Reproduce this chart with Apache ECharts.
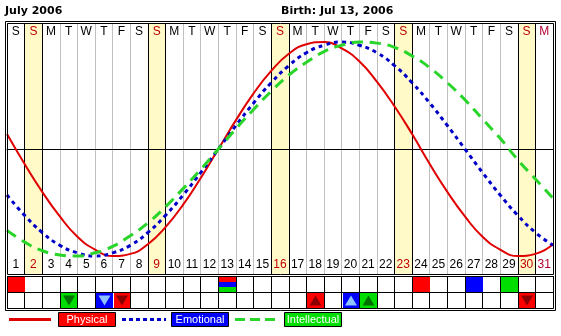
<!DOCTYPE html>
<html><head><meta charset="utf-8">
<script src="https://cdn.jsdelivr.net/npm/echarts/dist/echarts.min.js"></script>
<style>html,body{margin:0;padding:0;background:#fff}#c{width:561px;height:336px}</style>
</head><body><div id="c"></div>
<script>
const monthTitle = 'July 2006';
const birthTitle = 'Birth: Jul 13, 2006';
const dayLabels = ['1','2','3','4','5','6','7','8','9','10','11','12','13','14','15','16','17','18','19','20','21','22','23','24','25','26','27','28','29','30','31'];
const weekdayLabels = ['S','S','M','T','W','T','F','S','S','M','T','W','T','F','S','S','M','T','W','T','F','S','S','M','T','W','T','F','S','S','M'];
const sundays = ['2','9','16','23','30'];
const markedDays = ['31'];
const curveDays = [1,2,3,4,5,6,7,8,9,10,11,12,13,14,15,16,17,18,19,20,21,22,23,24,25,26,27,28,29,30,31,32];
const physical = [0.14,-0.14,-0.40,-0.63,-0.82,-0.94,-1.00,-0.98,-0.89,-0.73,-0.52,-0.27,0.00,0.27,0.52,0.73,0.89,0.98,1.00,0.94,0.82,0.63,0.40,0.14,-0.14,-0.40,-0.63,-0.82,-0.94,-1.00,-0.98,-0.89];
const emotional = [-0.43,-0.62,-0.78,-0.90,-0.97,-1.00,-0.97,-0.90,-0.78,-0.62,-0.43,-0.22,0.00,0.22,0.43,0.62,0.78,0.90,0.97,1.00,0.97,0.90,0.78,0.62,0.43,0.22,0.00,-0.22,-0.43,-0.62,-0.78,-0.90];
const intellectual = [-0.76,-0.87,-0.95,-0.99,-1.00,-0.97,-0.91,-0.81,-0.69,-0.54,-0.37,-0.19,0.00,0.19,0.37,0.54,0.69,0.81,0.91,0.97,1.00,0.99,0.95,0.87,0.76,0.62,0.46,0.28,0.10,-0.10,-0.28,-0.46];
const indicatorRows = ['critical','extreme'];
const physicalCritical = ['1','24'];
const emotionalCritical = ['27'];
const intellectualCritical = ['29'];
const tripleCritical = ['13'];
const physicalHigh = ['18'];
const physicalLow = ['7','30'];
const emotionalHigh = ['20'];
const emotionalLow = ['6'];
const intellectualHigh = ['21'];
const intellectualLow = ['4'];
const legendNames = ['Physical','Emotional','Intellectual'];

const RED = '#e00000', BLUE = '#0000c8', GREEN = '#2ad52a';
const BOX_RED = '#ff0000', BOX_BLUE = '#0000ff', BOX_GREEN = '#00dd00';
const LABEL_FONT = 'Liberation Sans';

const chart = echarts.init(document.getElementById('c'), null, {renderer: 'canvas'});

function cellItem(kind, fill, triFill) {
  return function (params, api) {
    const c = api.coord([api.value(0), api.value(1)]);
    const s = api.size([1, 1]);
    const left = Math.round(c[0] - s[0] / 2) + 1, right = Math.round(c[0] + s[0] / 2);
    const top = Math.round(c[1] - s[1] / 2) + 1, bottom = Math.round(c[1] + s[1] / 2);
    const children = [];
    if (kind === 'triple') {
      const h = (bottom - top) / 3;
      fill.forEach((f, i) => children.push({type: 'rect', shape: {x: left, y: top + i * h, width: right - left, height: h}, style: {fill: f}}));
    } else {
      children.push({type: 'rect', shape: {x: left, y: top, width: right - left, height: bottom - top}, style: {fill: fill}});
      if (kind === 'up' || kind === 'down') {
        const cx = (left + right) / 2, cy = (top + bottom) / 2;
        const pts = kind === 'down'
          ? [[cx - 6, cy - 5], [cx + 6, cy - 5], [cx, cy + 5]]
          : [[cx - 6, cy + 5], [cx + 6, cy + 5], [cx, cy - 5]];
        children.push({type: 'polygon', shape: {points: pts}, style: {fill: triFill}});
      }
    }
    return {type: 'group', children: children};
  };
}
function cellSeries(days, row, kind, fill, triFill) {
  return {
    type: 'custom', xAxisIndex: 3, yAxisIndex: 2, z: 5, silent: true,
    renderItem: cellItem(kind, fill, triFill),
    data: days.map(d => [d, row])
  };
}
function labelColor(v) {
  if (sundays.indexOf(v) >= 0) return '#c00000';
  if (markedDays.indexOf(v) >= 0) return '#b00030';
  return '#000';
}

const option = {
  animation: false,
  backgroundColor: '#fff',
  title: [
    {text: monthTitle, left: 5, top: 6, padding: 0, textStyle: {fontFamily: 'DejaVu Sans', fontWeight: 'bold', fontSize: 11, color: '#000'}},
    {text: birthTitle, left: 281, top: 6, padding: 0, textStyle: {fontFamily: 'DejaVu Sans', fontWeight: 'bold', fontSize: 11, color: '#000'}}
  ],
  grid: [
    {left: 7, top: 23, width: 546, height: 251, outerBoundsMode: 'none', containLabel: false},
    {left: 7, top: 276, width: 546, height: 32, outerBoundsMode: 'none', containLabel: false}
  ],
  xAxis: [
    {type: 'value', gridIndex: 0, min: 1, max: 32, show: true,
      axisLine: {show: true, onZero: true, onZeroAxisIndex: 0, lineStyle: {color: '#000', width: 1}},
      axisTick: {show: false}, axisLabel: {show: false}, splitLine: {show: false}, z: 1},
    {type: 'category', gridIndex: 0, data: dayLabels, position: 'bottom', boundaryGap: true,
      axisLine: {show: false, onZero: false}, axisTick: {show: false},
      axisLabel: {show: true, inside: true, margin: 3, interval: 0, fontFamily: LABEL_FONT, fontSize: 12,
        color: (v) => labelColor(v)},
      splitLine: {show: true, interval: 0, lineStyle: {width: 1, color: ['#c0c0c0', '#000', '#000', '#c0c0c0', '#c0c0c0', '#c0c0c0', '#c0c0c0']}},
      z: 0},
    {type: 'category', gridIndex: 0, data: dayLabels, position: 'top', boundaryGap: true,
      axisLine: {show: false, onZero: false}, axisTick: {show: false}, splitLine: {show: false},
      axisLabel: {show: true, inside: true, margin: 3, interval: 0, fontFamily: LABEL_FONT, fontSize: 12,
        formatter: (v, i) => weekdayLabels[i],
        color: (v) => labelColor(v)}},
    {type: 'category', gridIndex: 1, data: dayLabels, boundaryGap: true,
      axisLine: {show: false, onZero: false}, axisTick: {show: false}, axisLabel: {show: false},
      splitLine: {show: true, interval: 0, lineStyle: {color: '#000', width: 1}}}
  ],
  yAxis: [
    {type: 'value', gridIndex: 0, min: -1.168, max: 1.178, show: false, splitLine: {show: false}},
    {type: 'value', gridIndex: 0, min: 0, max: 1, show: false, splitLine: {show: false}},
    {type: 'category', gridIndex: 1, data: indicatorRows, inverse: true, boundaryGap: true,
      axisLine: {show: false, onZero: false}, axisTick: {show: false}, axisLabel: {show: false},
      splitLine: {show: true, interval: 0, lineStyle: {color: '#000', width: 1}}}
  ],
  series: [
    {type: 'bar', xAxisIndex: 1, yAxisIndex: 1, z: -1, silent: true, barWidth: '100%', barGap: '-100%',
      itemStyle: {color: '#fffac8'},
      data: dayLabels.map(d => sundays.indexOf(d) >= 0 ? 1 : '-')},
    {name: legendNames[0], type: 'line', xAxisIndex: 0, yAxisIndex: 0, smooth: true, symbol: 'none', z: 4,
      lineStyle: {color: RED, width: 2}, data: curveDays.map((d, i) => [d, physical[i]])},
    {name: legendNames[1], type: 'line', xAxisIndex: 0, yAxisIndex: 0, smooth: true, symbol: 'none', z: 4,
      lineStyle: {color: BLUE, width: 3, type: [4, 4]}, data: curveDays.map((d, i) => [d, emotional[i]])},
    {name: legendNames[2], type: 'line', xAxisIndex: 0, yAxisIndex: 0, smooth: true, symbol: 'none', z: 4,
      lineStyle: {color: GREEN, width: 3, type: [11, 7]}, data: curveDays.map((d, i) => [d, intellectual[i]])},
    cellSeries(physicalCritical, 'critical', 'box', BOX_RED),
    cellSeries(emotionalCritical, 'critical', 'box', BOX_BLUE),
    cellSeries(intellectualCritical, 'critical', 'box', BOX_GREEN),
    cellSeries(tripleCritical, 'critical', 'triple', [BOX_RED, BOX_BLUE, BOX_GREEN]),
    cellSeries(physicalHigh, 'extreme', 'up', BOX_RED, '#8a0000'),
    cellSeries(physicalLow, 'extreme', 'down', BOX_RED, '#8a0000'),
    cellSeries(emotionalHigh, 'extreme', 'up', BOX_BLUE, '#8fc3ff'),
    cellSeries(emotionalLow, 'extreme', 'down', BOX_BLUE, '#8fc3ff'),
    cellSeries(intellectualHigh, 'extreme', 'up', BOX_GREEN, '#006e00'),
    cellSeries(intellectualLow, 'extreme', 'down', BOX_GREEN, '#006e00')
  ],
  graphic: [
    {type: 'rect', z: 100, silent: true, shape: {x: 5.5, y: 21.5, width: 550, height: 289}, style: {fill: null, stroke: '#000', lineWidth: 1}},
    {type: 'rect', z: 100, silent: true, shape: {x: 7.5, y: 23.5, width: 546, height: 251}, style: {fill: null, stroke: '#000', lineWidth: 1}},
    {type: 'rect', z: 100, silent: true, shape: {x: 7.5, y: 276.5, width: 546, height: 32}, style: {fill: null, stroke: '#000', lineWidth: 1}},
    {type: 'line', z: 100, silent: true, shape: {x1: 9, y1: 319.5, x2: 51, y2: 319.5}, style: {stroke: RED, lineWidth: 3}},
    {type: 'rect', z: 100, silent: true, shape: {x: 58.5, y: 312.5, width: 57, height: 14}, style: {fill: BOX_RED, stroke: '#000', lineWidth: 1}},
    {type: 'text', z: 101, silent: true, x: 87, y: 320, style: {text: legendNames[0], fill: '#fff', font: '11px "Liberation Sans"', align: 'center', verticalAlign: 'middle'}},
    {type: 'line', z: 100, silent: true, shape: {x1: 122, y1: 319.5, x2: 166, y2: 319.5}, style: {stroke: BLUE, lineWidth: 3, lineDash: [4, 3]}},
    {type: 'rect', z: 100, silent: true, shape: {x: 171.5, y: 312.5, width: 57, height: 14}, style: {fill: BOX_BLUE, stroke: '#000', lineWidth: 1}},
    {type: 'text', z: 101, silent: true, x: 200, y: 320, style: {text: legendNames[1], fill: '#fff', font: '11px "Liberation Sans"', align: 'center', verticalAlign: 'middle'}},
    {type: 'line', z: 100, silent: true, shape: {x1: 235, y1: 319.5, x2: 276, y2: 319.5}, style: {stroke: GREEN, lineWidth: 3, lineDash: [10, 5]}},
    {type: 'rect', z: 100, silent: true, shape: {x: 284.5, y: 312.5, width: 57, height: 14}, style: {fill: BOX_GREEN, stroke: '#000', lineWidth: 1}},
    {type: 'text', z: 101, silent: true, x: 313, y: 320, style: {text: legendNames[2], fill: '#fff', font: '11px "Liberation Sans"', align: 'center', verticalAlign: 'middle'}}
  ]
};
chart.setOption(option);
</script></body></html>
